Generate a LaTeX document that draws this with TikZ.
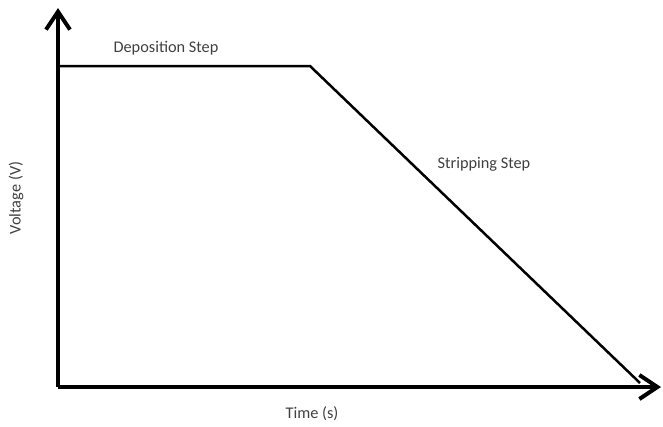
\documentclass[tikz,border=0pt]{standalone}
\usepackage{fontspec}
\setmainfont{Carlito}
\usepackage{xcolor}
\usetikzlibrary{arrows.meta, positioning}

\begin{document}
\begin{tikzpicture}[
    x=1pt, y=-1pt,
    axis/.style={line width=4pt, -{Straight Barb[length=18pt, width=24pt, line width=4pt]}},
    curve/.style={line width=2.5pt, line join=miter},
    lbl/.style={font=\fontsize{16.3}{19}\selectfont, text=black!75, inner sep=0pt}
]
\useasboundingbox (0,0) rectangle (663,426);

\coordinate (orig) at (58,387);
\coordinate (ytip) at (58,8);
\coordinate (xtip) at (661,387);
\coordinate (dep0) at (58,66);
\coordinate (dep1) at (310,66);
\coordinate (strip1) at (640,383);

\draw[axis] (orig) -- (ytip);
\draw[axis] (orig) -- (xtip);
\draw[curve] (dep0) -- (dep1) -- (strip1);

\node[lbl] (deplbl) at (166,48) {Deposition Step};
\node[lbl] (striplbl) at (484,164) {Stripping Step};
\node[lbl, rotate=90] (ylbl) at (16,198) {Voltage (V)};
\node[lbl] (xlbl) at (312,414) {Time (s)};
\end{tikzpicture}
\end{document}
